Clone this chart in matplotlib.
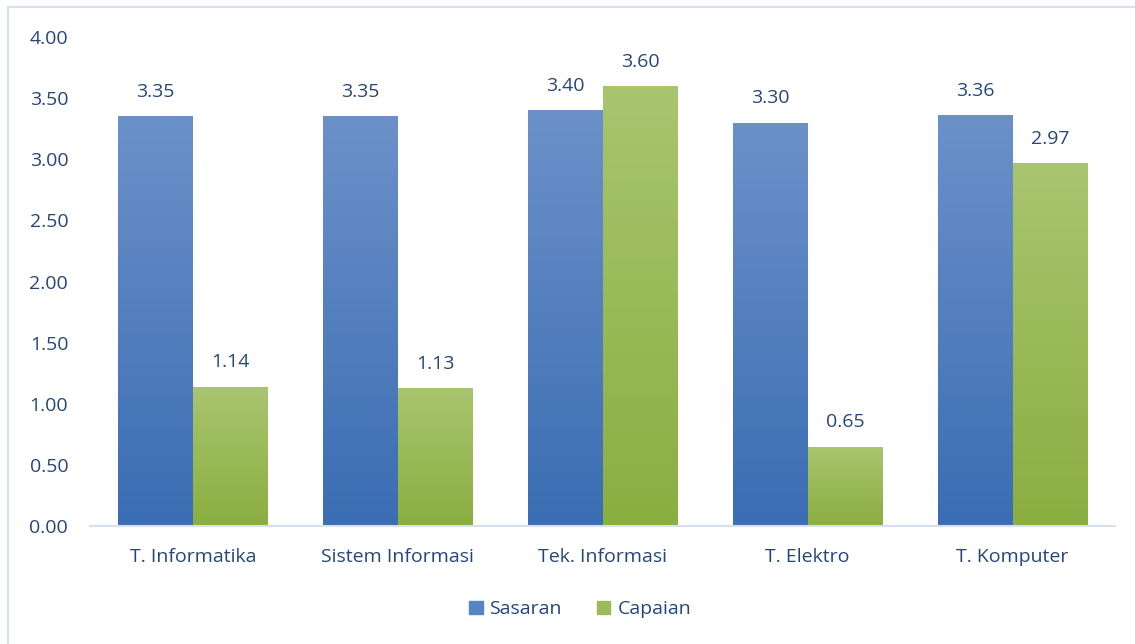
import numpy as np
import matplotlib.pyplot as plt
from matplotlib.patches import Rectangle
from matplotlib.colors import LinearSegmentedColormap

categories = ["T. Informatika", "Sistem Informasi", "Tek. Informasi", "T. Elektro", "T. Komputer"]
sasaran = [3.35, 3.35, 3.40, 3.30, 3.36]
capaian = [1.14, 1.13, 3.60, 0.65, 2.97]
yticks = [0.0, 0.5, 1.0, 1.5, 2.0, 2.5, 3.0, 3.5, 4.0]

txt = '#26467A'
plt.rcParams['font.family'] = ['Open Sans', 'DejaVu Sans']
fs = 14

fig = plt.figure(figsize=(11.35, 6.44), dpi=100)
ax = fig.add_axes([0.0797, 0.1832, 0.9027, 0.7593])

# gradient colormaps (bottom -> top)
blue = LinearSegmentedColormap.from_list('b', ['#3A6DB3', '#6C91C9'])
green = LinearSegmentedColormap.from_list('g', ['#8BAE40', '#A9C56F'])
grad = np.linspace(0, 1, 256).reshape(-1, 1)

x = np.arange(len(categories))
w = 0.366

def grad_bars(xpos, vals, cmap):
    bars = ax.bar(xpos, vals, w, color='none', edgecolor='none')
    for b in bars:
        x0, y0 = b.get_x(), b.get_y()
        im = ax.imshow(grad, cmap=cmap, origin='lower', aspect='auto',
                       extent=[x0, x0 + b.get_width(), y0, y0 + b.get_height()],
                       zorder=2)
        im.set_clip_path(b)
    return bars

b1 = grad_bars(x - w / 2, sasaran, blue)
b2 = grad_bars(x + w / 2, capaian, green)

for bars in (b1, b2):
    for b in bars:
        ax.annotate(f"{b.get_height():.2f}", (b.get_x() + b.get_width() / 2, b.get_height()),
                    xytext=(0, 11), textcoords='offset points', ha='center', va='bottom',
                    fontsize=fs, color=txt)

ax.set_xlim(-0.5, len(categories) - 0.5)
ax.set_ylim(0, 4)
ax.set_xticks(x)
ax.set_xticklabels(categories, fontsize=fs, color=txt)
ax.set_yticks(yticks)
ax.set_yticklabels([f"{v:.2f}" for v in yticks], fontsize=fs, color=txt)
ax.tick_params(length=0)
ax.tick_params(axis='x', pad=16)
ax.tick_params(axis='y', pad=16)
for s in ['top', 'right', 'left']:
    ax.spines[s].set_visible(False)
ax.spines['bottom'].set_color('#D6E0F0')
ax.spines['bottom'].set_linewidth(1.5)

handles = [Rectangle((0, 0), 1, 1, color='#5585C4'), Rectangle((0, 0), 1, 1, color='#9BBB59')]
fig.legend(handles, ['Sasaran', 'Capaian'], loc='center', bbox_to_anchor=(0.511, 0.054),
           ncol=2, frameon=False, fontsize=fs, handlelength=0.7, handleheight=0.7,
           handletextpad=0.35, columnspacing=1.8, labelcolor=txt)

fig.patches.append(Rectangle((8 / 1135, -0.1), 1.2, 1.1 - 7 / 644, transform=fig.transFigure,
                             fill=False, edgecolor='#D6E0F0', linewidth=1.5))

fig.savefig('out.png', dpi=100)
